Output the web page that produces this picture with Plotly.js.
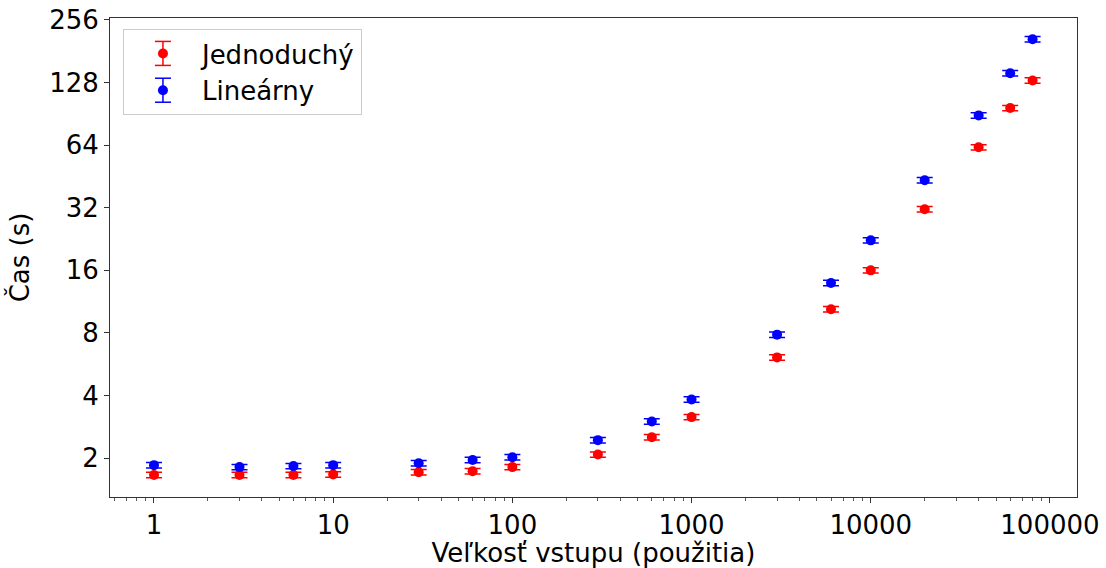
<!DOCTYPE html>
<html>
<head>
<meta charset="utf-8">
<script src="https://cdn.plot.ly/plotly-3.0.1.min.js"></script>
<style>html,body{margin:0;padding:0;background:#fff;}#chart{width:1106px;height:568px;}</style>
</head>
<body>
<div id="chart"></div>
<script>
const sizes = [1, 3, 6, 10, 30, 60, 100, 300, 600, 1000, 3000, 6000, 10000, 20000, 40000, 60000, 80000];
const jednoduchy = [1.66, 1.66, 1.66, 1.67, 1.71, 1.73, 1.81, 2.08, 2.52, 3.15, 6.1, 10.4, 16.0, 31.5, 62.5, 96.5, 131];
const linearny = [1.85, 1.81, 1.83, 1.85, 1.89, 1.96, 2.02, 2.44, 3.0, 3.83, 7.85, 13.9, 22.3, 43.4, 89, 142, 207];
const errPercent = 3;
const seriesNames = ['Jednoduchý', 'Lineárny'];
const seriesColors = ['#ff0000', '#0000ff'];
const yTicks = [2, 4, 8, 16, 32, 64, 128, 256];
const xTicks = [1, 10, 100, 1000, 10000, 100000];

const font = {family: 'DejaVu Sans, sans-serif', size: 26, color: '#000'};

function trace(name, y, color, group) {
  return {
    x: sizes, y: y, name: name, type: 'scatter', mode: 'markers',
    legendgroup: group,
    marker: {color: color, size: 10},
    error_y: {type: 'percent', value: errPercent, color: color, thickness: 1.5, width: 8}
  };
}

const data = [
  trace(seriesNames[0], jednoduchy, seriesColors[0], 'a'),
  trace(seriesNames[1], linearny, seriesColors[1], 'b')
];

const layout = {
  width: 1106, height: 568,
  margin: {l: 110, r: 29, t: 18, b: 71},
  paper_bgcolor: '#fff', plot_bgcolor: '#fff',
  font: font,
  showlegend: true,
  legend: {
    x: 0.0134, y: 0.977, xanchor: 'left', yanchor: 'top',
    bordercolor: '#cccccc', borderwidth: 1, bgcolor: 'rgba(255,255,255,0)',
    font: font, traceorder: 'grouped', tracegroupgap: 0, itemwidth: 68
  },
  xaxis: {
    type: 'log', range: [-0.2455, 5.151],
    tickvals: xTicks, ticktext: xTicks.map(String),
    ticks: 'outside', ticklen: 5, tickwidth: 1, tickcolor: '#333',
    minor: {ticks: 'outside', ticklen: 3, tickwidth: 0.8, tickcolor: '#333', dtick: 'D1', showgrid: false},
    showgrid: false, zeroline: false,
    showline: true, mirror: true, linecolor: '#333', linewidth: 1,
    tickfont: font,
    title: {text: 'Veľkosť vstupu (použitia)', font: font, standoff: 3}
  },
  yaxis: {
    type: 'log', range: [Math.log10(1.30), Math.log10(261.7)],
    tickvals: yTicks, ticktext: yTicks.map(String),
    ticks: 'outside', ticklen: 5, tickwidth: 1, tickcolor: '#333',
    showgrid: false, zeroline: false,
    showline: true, mirror: true, linecolor: '#333', linewidth: 1,
    tickfont: font,
    title: {text: 'Čas (s)', font: font, standoff: 12}
  }
};

Plotly.newPlot('chart', data, layout, {displayModeBar: false, staticPlot: true}).then(function (gd) {
  // add error-bar glyphs behind the legend markers
  const sz = gd._fullLayout._size;
  const H = gd._fullLayout.height;
  const box = gd.getBoundingClientRect();
  const pts = gd.querySelectorAll('.legend .traces .legendpoints path.scatterpts');
  const shapes = [];
  pts.forEach(function (p, i) {
    const r = p.getBoundingClientRect();
    const cx = r.left + r.width / 2 - box.left;
    const cy = r.top + r.height / 2 - box.top;
    const toX = function (px) { return (px - sz.l) / sz.w; };
    const toY = function (py) { return (H - sz.b - py) / sz.h; };
    const col = seriesColors[i];
    const half = 12, cap = 8;
    const ln = {color: col, width: 1.5};
    shapes.push({type: 'line', xref: 'paper', yref: 'paper', x0: toX(cx), x1: toX(cx), y0: toY(cy - half), y1: toY(cy + half), line: ln, layer: 'above'});
    shapes.push({type: 'line', xref: 'paper', yref: 'paper', x0: toX(cx - cap), x1: toX(cx + cap), y0: toY(cy - half), y1: toY(cy - half), line: ln, layer: 'above'});
    shapes.push({type: 'line', xref: 'paper', yref: 'paper', x0: toX(cx - cap), x1: toX(cx + cap), y0: toY(cy + half), y1: toY(cy + half), line: ln, layer: 'above'});
  });
  return Plotly.relayout(gd, {shapes: shapes});
});
</script>
</body>
</html>
